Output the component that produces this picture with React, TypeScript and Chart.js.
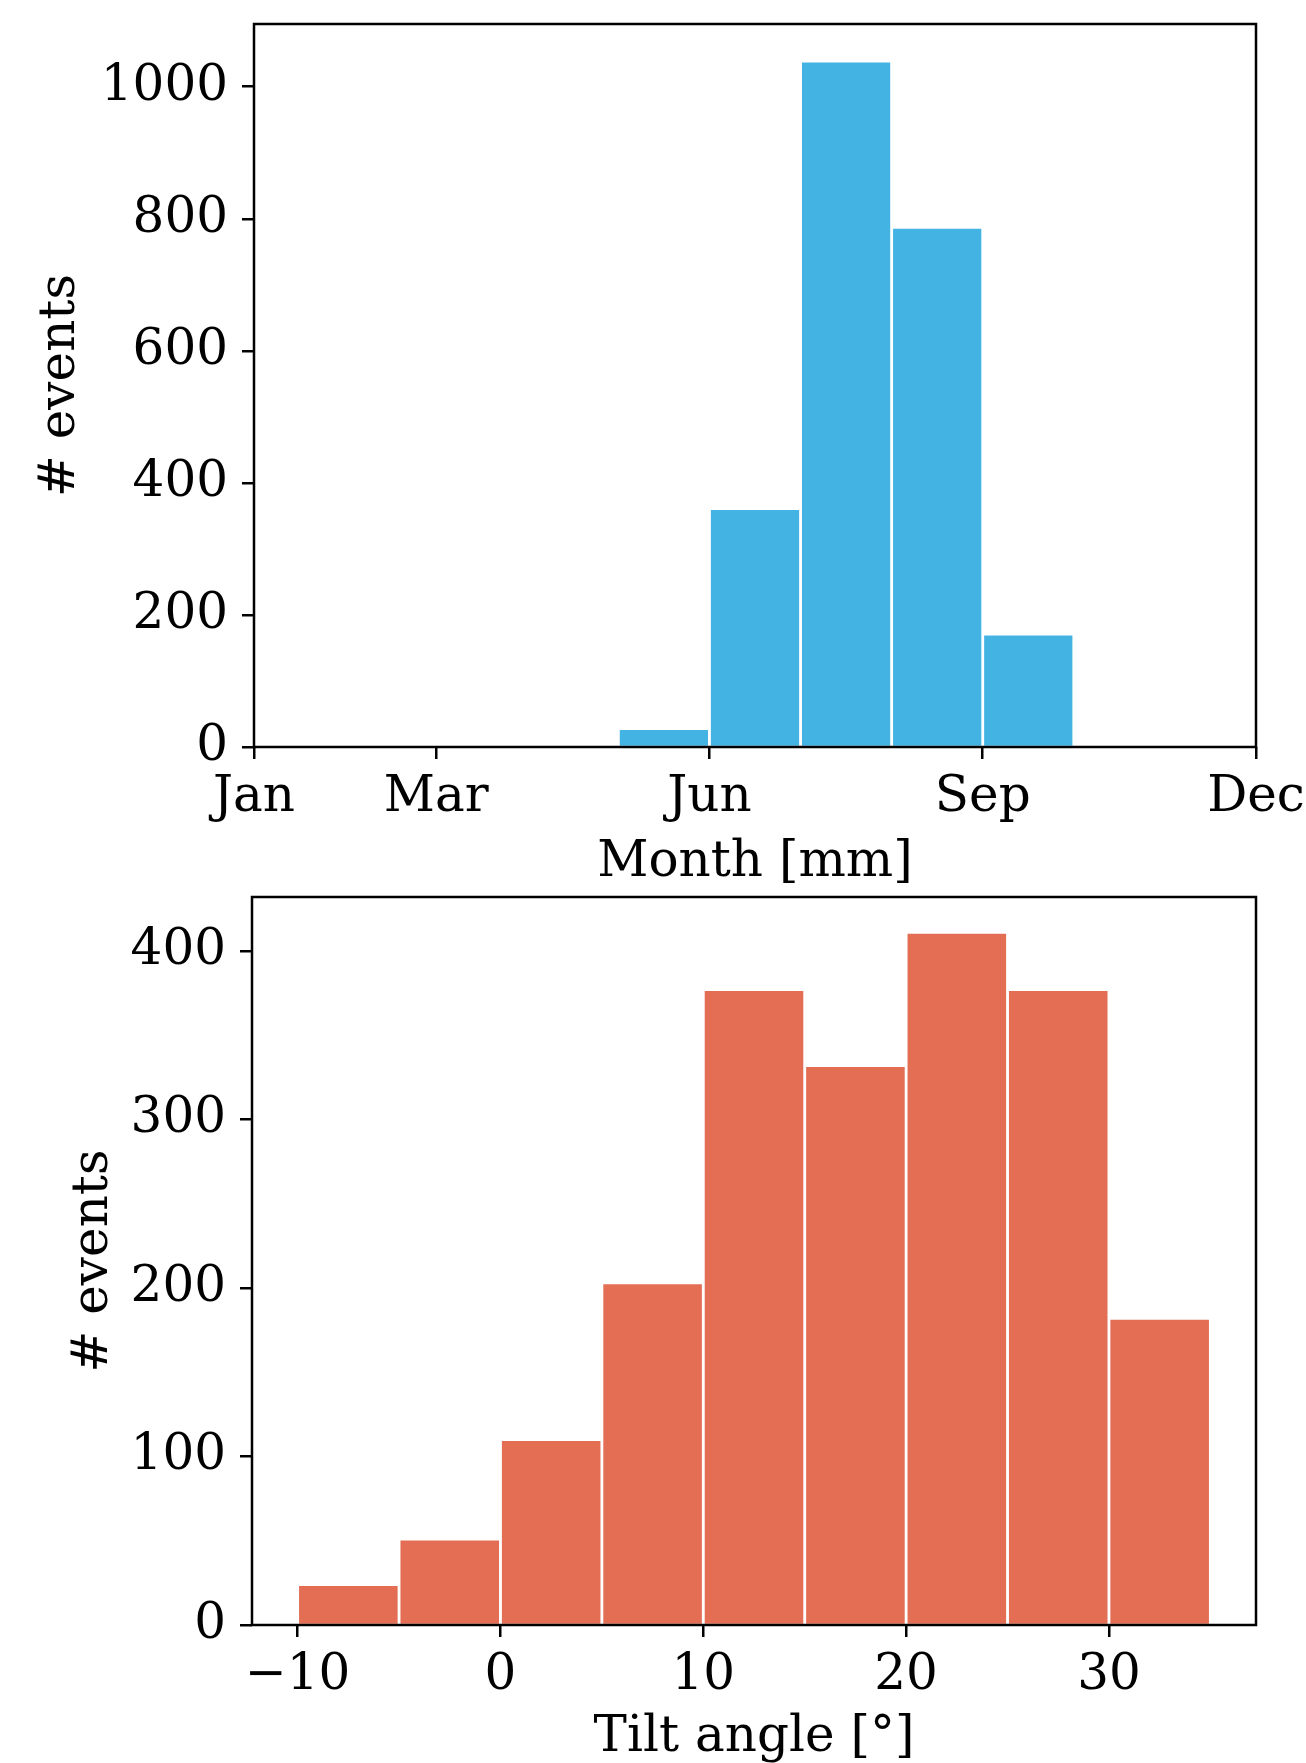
import React, { useEffect, useRef } from "react";
import { Chart, registerables } from "chart.js";

Chart.register(...registerables);

// ---- Data ----
const monthBinCenters = [1.5, 2.5, 3.5, 4.5, 5.5, 6.5, 7.5, 8.5, 9.5, 10.5, 11.5];
const monthCounts = [0, 0, 0, 0, 28, 361, 1039, 787, 171, 0, 0];
const monthTickValues = [1, 3, 6, 9, 12];
const monthTickLabels = ["Jan", "Mar", "Jun", "Sep", "Dec"];
const monthYTicks = [0, 200, 400, 600, 800, 1000];

const tiltBinCenters = [-7.5, -2.5, 2.5, 7.5, 12.5, 17.5, 22.5, 27.5, 32.5];
const tiltCounts = [24, 51, 110, 203, 377, 332, 411, 377, 182];
const tiltTickValues = [-10, 0, 10, 20, 30];
const tiltYTicks = [0, 100, 200, 300, 400];

const FONT = "'DejaVu Serif', serif";
const FONT_SIZE = 50;

const framePlugin = {
  id: "frame",
  afterDatasetsDraw(chart: any) {
    const { ctx, chartArea: a } = chart;
    ctx.save();
    ctx.strokeStyle = "#000";
    ctx.lineWidth = 2.5;
    ctx.strokeRect(a.left, a.top, a.right - a.left, a.bottom - a.top);
    ctx.restore();
  },
};

const bgPlugin = {
  id: "bg",
  beforeDraw(chart: any) {
    const { ctx, width, height } = chart;
    ctx.save();
    ctx.fillStyle = "#fff";
    ctx.fillRect(0, 0, width, height);
    ctx.restore();
  },
};

type Cfg = {
  centers: number[];
  counts: number[];
  color: string;
  xMin: number;
  xMax: number;
  yMax: number;
  xTicks: number[];
  xLabel: (v: number) => string;
  yTicks: number[];
  xTitle: string;
  canvasH: number;
  padTop: number;
  padRight: number;
  yAxisWidth: number;
  xAxisHeight: number;
  yTitlePad: number;
  xTitlePad: number;
  xTickPad: number;
};

function makeConfig(c: Cfg): any {
  const tickFont = { family: FONT, size: FONT_SIZE, lineHeight: 1.2 };
  const titleFont = { family: FONT, size: FONT_SIZE, lineHeight: 1.0 };
  return {
    type: "bar",
    data: {
      datasets: [
        {
          data: c.centers.map((x, i) => ({ x, y: c.counts[i] })),
          backgroundColor: c.color,
          borderColor: "#ffffff",
          borderWidth: 1.75,
          borderSkipped: "start",
          barPercentage: 1,
          categoryPercentage: 1,
        },
      ],
    },
    options: {
      responsive: false,
      animation: false,
      devicePixelRatio: 1,
      layout: { padding: { left: 0, right: c.padRight, top: c.padTop, bottom: 0 } },
      plugins: { legend: { display: false }, tooltip: { enabled: false } },
      scales: {
        x: {
          type: "linear",
          min: c.xMin,
          max: c.xMax,
          offset: false,
          afterBuildTicks: (scale: any) => {
            scale.ticks = c.xTicks.map((v) => ({ value: v }));
          },
          afterFit: (scale: any) => {
            scale.height = c.xAxisHeight;
            scale.paddingLeft = 0;
            scale.paddingRight = 0;
          },
          grid: {
            display: true,
            drawOnChartArea: false,
            drawTicks: true,
            tickLength: 12,
            lineWidth: 2.5,
            color: "#000",
            offset: false,
            z: 1,
          },
          border: { display: false },
          ticks: {
            autoSkip: false,
            maxRotation: 0,
            minRotation: 0,
            padding: c.xTickPad,
            color: "#000",
            font: tickFont,
            callback: (v: any) => c.xLabel(Number(v)),
          },
          title: {
            display: true,
            text: c.xTitle,
            color: "#000",
            font: titleFont,
            padding: { top: 0, bottom: c.xTitlePad },
          },
        },
        y: {
          type: "linear",
          min: 0,
          max: c.yMax,
          afterBuildTicks: (scale: any) => {
            scale.ticks = c.yTicks.map((v) => ({ value: v }));
          },
          afterFit: (scale: any) => {
            scale.width = c.yAxisWidth;
            scale.paddingTop = 0;
            scale.paddingBottom = 0;
          },
          grid: {
            display: true,
            drawOnChartArea: false,
            drawTicks: true,
            tickLength: 12,
            lineWidth: 2.5,
            color: "#000",
            z: 1,
          },
          border: { display: false },
          ticks: {
            padding: 14,
            color: "#000",
            font: tickFont,
            callback: (v: any) => String(v),
          },
          title: {
            display: true,
            text: "# events",
            color: "#000",
            font: titleFont,
            padding: { top: c.yTitlePad, bottom: 0 },
          },
        },
      },
    },
    plugins: [bgPlugin, framePlugin],
  };
}

const topCfg: Cfg = {
  centers: monthBinCenters,
  counts: monthCounts,
  color: "#43B3E4",
  xMin: 1,
  xMax: 12,
  yMax: 1095,
  xTicks: monthTickValues,
  xLabel: (v) => monthTickLabels[monthTickValues.indexOf(v)] ?? "",
  yTicks: monthYTicks,
  xTitle: "Month [mm]",
  canvasH: 890,
  padTop: 24,
  padRight: 50,
  yAxisWidth: 254,
  xAxisHeight: 890 - 747,
  yTitlePad: 36,
  xTitlePad: 2,
  xTickPad: 9,
};

const bottomCfg: Cfg = {
  centers: tiltBinCenters,
  counts: tiltCounts,
  color: "#E36E54",
  xMin: -12.25,
  xMax: 37.25,
  yMax: 432,
  xTicks: tiltTickValues,
  xLabel: (v) => (v < 0 ? "\u2212" + Math.abs(v) : String(v)),
  yTicks: tiltYTicks,
  xTitle: "Tilt angle [°]",
  canvasH: 873,
  padTop: 7,
  padRight: 50,
  yAxisWidth: 252,
  xAxisHeight: 873 - (1625 - 890),
  yTitlePad: 69,
  xTitlePad: 0,
  xTickPad: 9,
};

function Hist({ cfg, top }: { cfg: Cfg; top: number }) {
  const ref = useRef<HTMLCanvasElement>(null);
  useEffect(() => {
    if (!ref.current) return;
    const chart = new Chart(ref.current, makeConfig(cfg));
    return () => chart.destroy();
  }, [cfg]);
  return (
    <canvas
      ref={ref}
      width={1306}
      height={cfg.canvasH}
      style={{ position: "absolute", left: 0, top, width: 1306, height: cfg.canvasH, display: "block" }}
    />
  );
}

export default function App() {
  return (
    <div style={{ position: "absolute", left: 0, top: 0, width: 1306, height: 1763, background: "#fff" }}>
      <Hist cfg={topCfg} top={0} />
      <Hist cfg={bottomCfg} top={890} />
    </div>
  );
}
